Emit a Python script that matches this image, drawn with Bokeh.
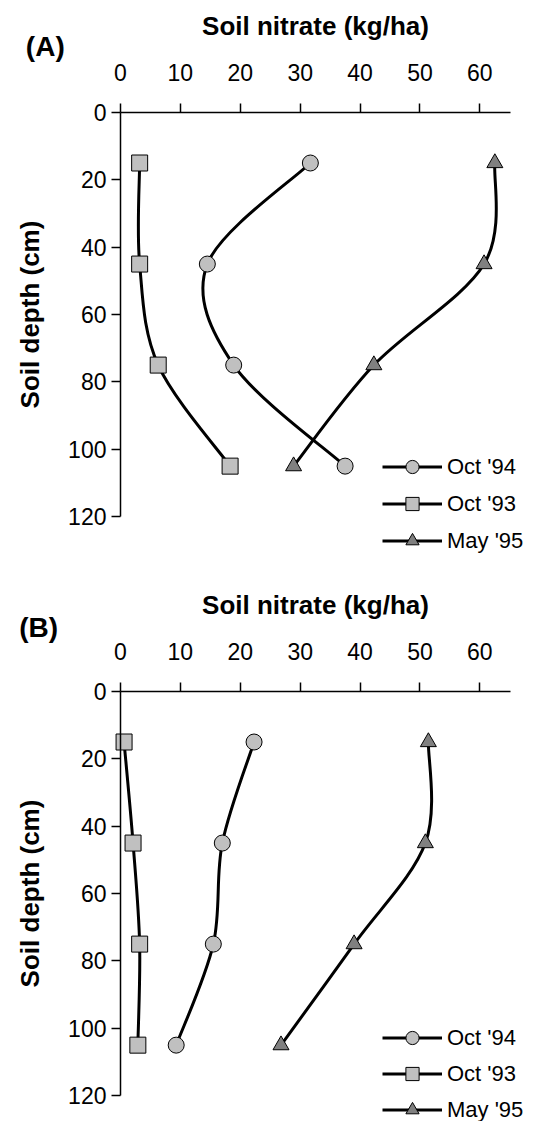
from bokeh.plotting import figure
from bokeh.models import (Range1d, FixedTicker, Legend, LegendItem, Label)
from bokeh.layouts import column
from bokeh.embed import file_html
from bokeh.resources import INLINE

# ---------------- data ----------------
depth = [15, 45, 75, 105]
tick_x = [0, 10, 20, 30, 40, 50, 60]
tick_y = [0, 20, 40, 60, 80, 100, 120]
series_names = ["Oct '94", "Oct '93", "May '95"]

# Panel A
a_oct94 = [31.7, 14.5, 18.9, 37.5]
a_oct93 = [3.2, 3.2, 6.3, 18.3]
a_may95 = [62.5, 60.7, 42.3, 28.9]
# Panel B
b_oct94 = [22.3, 17.0, 15.5, 9.3]
b_oct93 = [0.6, 2.1, 3.2, 2.9]
b_may95 = [51.4, 50.9, 39.0, 26.8]

FONT = "Liberation Sans"
LIGHT = "#C0C0C0"
DARK = "#808080"


def smooth_segments(xs, ys):
    """Excel-style smoothed-line Bezier segments computed from the data points."""
    n = len(xs)
    out = {k: [] for k in ("x0", "y0", "x1", "y1", "cx0", "cy0", "cx1", "cy1")}
    for i in range(n - 1):
        i0 = max(i - 1, 0)
        i3 = min(i + 2, n - 1)
        out["x0"].append(xs[i]); out["y0"].append(ys[i])
        out["x1"].append(xs[i + 1]); out["y1"].append(ys[i + 1])
        out["cx0"].append(xs[i] + (xs[i + 1] - xs[i0]) / 6.0)
        out["cy0"].append(ys[i] + (ys[i + 1] - ys[i0]) / 6.0)
        out["cx1"].append(xs[i + 1] - (xs[i3] - xs[i]) / 6.0)
        out["cy1"].append(ys[i + 1] - (ys[i3] - ys[i]) / 6.0)
    return out


def panel(height, ybottom, oct94, oct93, may95, tag, tag_pos, legend_y, leg_spacing):
    # frame fills the whole canvas; axes are pinned at x=0 / depth=0
    p = figure(width=530, height=height, output_backend="svg", toolbar_location=None,
               x_range=Range1d(-20.03, 68.45), y_range=Range1d(ybottom, -33.25),
               x_axis_location="above", min_border_left=0, min_border_right=0,
               min_border_top=0, min_border_bottom=0)
    p.outline_line_color = None
    p.grid.visible = False
    p.background_fill_color = "white"
    p.border_fill_color = "white"

    for ax, ticks, bounds in ((p.xaxis[0], tick_x, (0, 65.1)), (p.yaxis[0], tick_y, (0, 120))):
        ax.fixed_location = 0
        ax.ticker = FixedTicker(ticks=ticks)
        ax.bounds = bounds
        ax.axis_line_color = "black"
        ax.axis_line_width = 1.5
        ax.major_tick_line_color = "black"
        ax.major_tick_line_width = 1.5
        ax.major_tick_in = 0
        ax.major_tick_out = 9
        ax.minor_tick_line_color = None
        ax.major_label_text_font = FONT
        ax.major_label_text_font_size = "23px"
        ax.major_label_text_color = "black"
        ax.axis_label_text_font = FONT
        ax.axis_label_text_font_size = "26px"
        ax.axis_label_text_font_style = "bold"
        ax.axis_label_text_color = "black"

    p.xaxis.axis_label = "Soil nitrate (kg/ha)"
    p.xaxis.major_label_standoff = 22
    p.xaxis.axis_label_standoff = 21
    p.yaxis.axis_label = "Soil depth (cm)"
    p.yaxis.major_label_standoff = 5
    p.yaxis.axis_label_standoff = 20

    items = []
    specs = [(oct94, "circle", LIGHT), (oct93, "square", LIGHT), (may95, "triangle", DARK)]
    for (xs, marker, fill), name in zip(specs, series_names):
        seg = smooth_segments(xs, depth)
        cr = p.bezier(x0=seg["x0"], y0=seg["y0"], x1=seg["x1"], y1=seg["y1"],
                      cx0=seg["cx0"], cy0=seg["cy0"], cx1=seg["cx1"], cy1=seg["cy1"],
                      line_color="black", line_width=3)
        mr = p.scatter(xs, depth, marker=marker, size=16, fill_color=fill,
                       line_color="black", line_width=1)
        items.append(LegendItem(label=name, renderers=[cr, mr]))

    leg = Legend(items=items, location=(382, legend_y), padding=0, margin=0,
                 spacing=leg_spacing, glyph_width=60, glyph_height=33, label_standoff=5,
                 border_line_color=None, background_fill_alpha=0,
                 label_text_font=FONT, label_text_font_size="22px",
                 label_text_color="black", label_text_baseline="middle")
    p.add_layout(leg, "center")

    p.add_layout(Label(x=tag_pos[0], y=tag_pos[1], text=tag, text_font=FONT,
                       text_font_size="28px", text_font_style="bold",
                       text_color="black", text_baseline="alphabetic"))
    return p


pa = panel(579, 138.66, a_oct94, a_oct93, a_may95, "(A)", (-15.8, -19.6), 22, 4)
pb = panel(542, 127.67, b_oct94, b_oct93, b_may95, "(B)", (-16.9, -18.9), -5, 3)

layout = column(pa, pb, spacing=0)
open("out.html", "w").write(file_html(layout, INLINE))
